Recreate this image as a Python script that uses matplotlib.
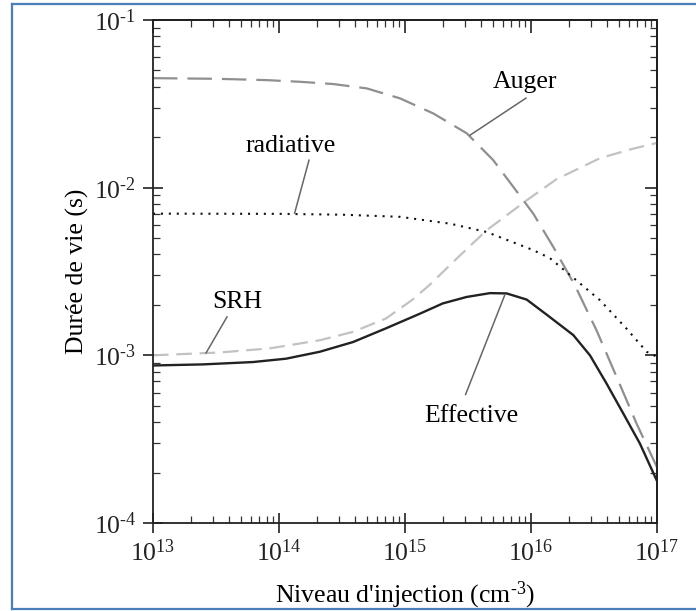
import numpy as np
import matplotlib
matplotlib.use("Agg")
import matplotlib.pyplot as plt
from matplotlib.lines import Line2D
from matplotlib.ticker import LogLocator, NullFormatter, FuncFormatter

plt.rcParams['font.family'] = ['Liberation Serif', 'DejaVu Serif']
plt.rcParams['mathtext.fontset'] = 'custom'
plt.rcParams['mathtext.rm'] = 'Liberation Serif'
plt.rcParams['mathtext.it'] = 'Liberation Serif:italic'
plt.rcParams['mathtext.bf'] = 'Liberation Serif:bold'

# lifetimes (x given as log10 of injection level)
auger_logx = [13.0, 13.5, 13.9, 14.167, 14.43, 14.696, 14.96, 15.225, 15.49, 15.70,
              15.86, 16.018, 16.177, 16.35, 16.52, 16.68, 16.839, 17.0]
auger_tau = [4.5e-2, 4.46e-2, 4.38e-2, 4.28e-2, 4.15e-2, 3.91e-2, 3.41e-2, 2.77e-2, 2.11e-2, 1.46e-2,
             1.01e-2, 7.0e-3, 4.43e-3, 2.6e-3, 1.41e-3, 7.42e-4, 3.9e-4, 2.15e-4]

rad_logx = [13.0, 14.0, 14.5, 14.96, 15.357, 15.648, 16.018, 16.15, 16.336, 16.548,
            16.759, 16.918, 17.0]
rad_tau = [7.0e-3, 6.98e-3, 6.9e-3, 6.7e-3, 6.1e-3, 5.44e-3, 4.24e-3, 3.8e-3, 2.9e-3, 2.13e-3,
           1.44e-3, 1.05e-3, 9.8e-4]

srh_logx = [13.0, 13.529, 13.926, 14.323, 14.587, 14.85, 15.06, 15.2, 15.381, 15.648,
            15.966, 16.2, 16.548, 16.8, 17.0]
srh_tau = [1.0e-3, 1.04e-3, 1.10e-3, 1.23e-3, 1.38e-3, 1.66e-3, 2.15e-3, 2.65e-3, 3.6e-3, 5.57e-3,
           8.41e-3, 1.12e-2, 1.5e-2, 1.7e-2, 1.85e-2]

eff_logx = [13.0, 13.397, 13.794, 14.056, 14.323, 14.587, 14.85, 15.117, 15.3, 15.49,
            15.675, 15.807, 15.966, 16.15, 16.336, 16.468, 16.6, 16.733, 16.865, 17.0]
eff_tau = [8.7e-4, 8.83e-4, 9.12e-4, 9.55e-4, 1.05e-3, 1.2e-3, 1.45e-3, 1.77e-3, 2.04e-3, 2.23e-3,
           2.35e-3, 2.34e-3, 2.15e-3, 1.69e-3, 1.32e-3, 1.0e-3, 6.78e-4, 4.49e-4, 2.97e-4, 1.78e-4]

xticks = [1e13, 1e14, 1e15, 1e16, 1e17]
yticks = [1e-4, 1e-3, 1e-2, 1e-1]

# label text, text position, leader line start/end (log10 x, log10 y)
labels = ["Auger", "radiative", "SRH", "Effective"]
label_pos = [(15.95, -1.37), (14.095, -1.752), (13.667, -2.684), (15.524, -3.364)]
leaders = [((15.96, -1.466), (15.516, -1.687)),
           ((14.238, -1.836), (14.124, -2.152)),
           ((13.587, -2.771), (13.421, -2.986)),
           ((15.481, -3.233), (15.791, -2.642))]


def pow10(v, pos):
    e = int(round(np.log10(v)))
    if e < 0:
        return r"$10^{\text{-}%d}$" % (-e)
    return r"$10^{%d}$" % e


fig = plt.figure(figsize=(6.96, 6.11), dpi=100)
ax = fig.add_axes([153/696, 1 - 523/611, 504/696, 503/611])

ax.plot(10**np.array(auger_logx), auger_tau, color='#8f8f8f', lw=1.6, dashes=(11, 4.5))
ax.plot(10**np.array(srh_logx), srh_tau, color='#c2c2c2', lw=1.6, dashes=(7, 3.5))
ax.plot(10**np.array(rad_logx), rad_tau, color='#111111', lw=1.5, dashes=(1, 2.8))
ax.plot(10**np.array(eff_logx), eff_tau, color='#222222', lw=1.7)

for txt, (tx, ty), ((x0, y0), (x1, y1)) in zip(labels, label_pos, leaders):
    ax.text(10**tx, 10**ty, txt, fontsize=18.5, ha='center', va='center')
    ax.plot([10**x0, 10**x1], [10**y0, 10**y1], color='#666666', lw=1.1)

ax.set_xscale('log')
ax.set_yscale('log')
ax.set_xlim(1e13, 1e17)
ax.set_ylim(1e-4, 1e-1)
ax.set_xticks(xticks)
ax.set_yticks(yticks)
ax.xaxis.set_major_formatter(FuncFormatter(pow10))
ax.yaxis.set_major_formatter(FuncFormatter(pow10))
ax.xaxis.set_minor_locator(LogLocator(base=10, subs=np.arange(2, 10)))
ax.yaxis.set_minor_locator(LogLocator(base=10, subs=np.arange(2, 10)))
ax.xaxis.set_minor_formatter(NullFormatter())
ax.yaxis.set_minor_formatter(NullFormatter())

ax.tick_params(which='major', direction='inout', length=14, width=1.2, labelsize=18.5,
               colors='#222222', pad=5)
ax.tick_params(which='minor', direction='in', length=5, width=0.9, colors='#333333')
ax.tick_params(axis='x', which='major', pad=5)
for s in ax.spines.values():
    s.set_linewidth(1.3)
    s.set_color('#222222')

# inward ticks on top and right
for side in ['top', 'right']:
    if side == 'top':
        sec = ax.secondary_xaxis('top')
        sec.set_xticks(xticks)
        sec.xaxis.set_minor_locator(LogLocator(base=10, subs=np.arange(2, 10)))
        sec.xaxis.set_major_formatter(NullFormatter())
        sec.xaxis.set_minor_formatter(NullFormatter())
    else:
        sec = ax.secondary_yaxis('right')
        sec.set_yticks(yticks)
        sec.yaxis.set_minor_locator(LogLocator(base=10, subs=np.arange(2, 10)))
        sec.yaxis.set_major_formatter(NullFormatter())
        sec.yaxis.set_minor_formatter(NullFormatter())
    sec.tick_params(which='major', direction='in', length=9, width=1.2, colors='#222222')
    sec.tick_params(which='minor', direction='in', length=5, width=0.9, colors='#333333')
    sec.spines[side].set_linewidth(1.3)

ax.set_xlabel("Niveau d'injection (cm$^{\\text{-}3}$)", fontsize=18.5, labelpad=9.5)
ax.set_ylabel("Durée de vie (s)", fontsize=18.5, labelpad=3)

# blue frame of the screenshot
bc = '#4a7ebb'
fig.add_artist(Line2D([12/696, 12/696], [1 - 609/611, 1 - 4/611], color=bc, lw=1.6))
fig.add_artist(Line2D([12/696, 1], [1 - 4/611, 1 - 4/611], color=bc, lw=1.6))
fig.add_artist(Line2D([12/696, 1], [1 - 609/611, 1 - 609/611], color=bc, lw=1.6))

fig.savefig("out.png", dpi=100)
